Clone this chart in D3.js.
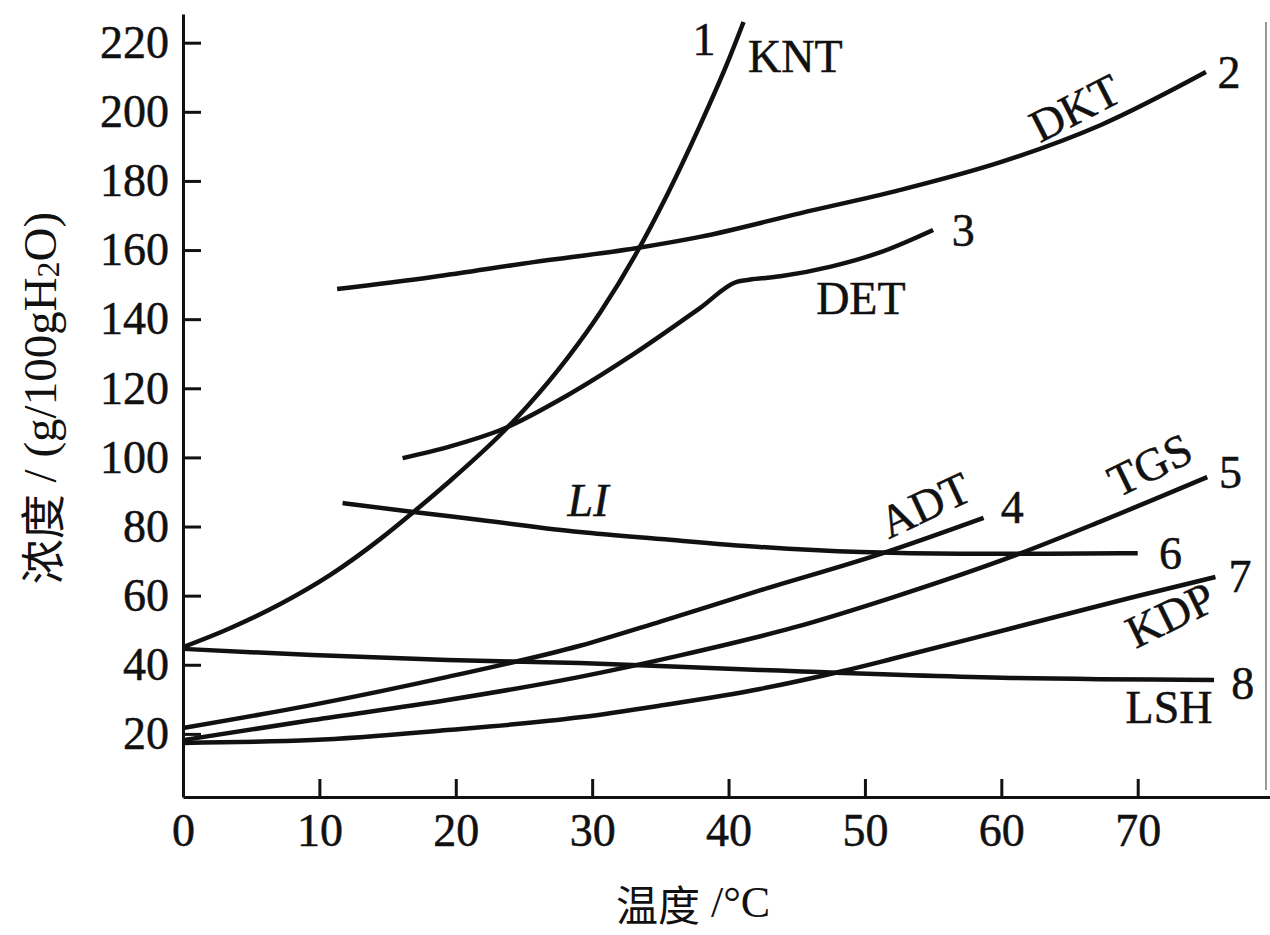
<!DOCTYPE html>
<html><head><meta charset="utf-8">
<script src="https://cdn.jsdelivr.net/npm/d3@7"></script>
<style>
html,body{margin:0;padding:0;background:#fff;}
svg{display:block;}
</style></head><body>
<svg id="chart" width="1270" height="935"></svg>
<script>
// ---- data (temperature °C, concentration g/100gH2O) ----
const xTicks = [0, 10, 20, 30, 40, 50, 60, 70];
const yTicks = [20, 40, 60, 80, 100, 120, 140, 160, 180, 200, 220];

const kntData = [[0,45.1],[3.4,50.5],[7.1,57.5],[10.8,66],[14.5,76.5],[16.9,84.2],[19.4,92.6],[23.5,107.5],[25.2,114.6],[28.2,128.8],[30.6,142],[33.3,159.5],[35.5,176],[37.9,196],[39.9,214],[41.1,226]];
const dktData = [[11.3,148.7],[18.3,152.2],[25.7,156.5],[33.3,160.6],[37.9,163.8],[45.3,170.7],[52.6,177.4],[60.0,185.5],[67.3,196.2],[75.0,211.5]];
const detData = [[16.1,99.8],[19.6,103.2],[23.5,108.3],[28.2,118],[33.0,129.8],[37.9,143.2],[40.6,150.8],[41.5,151.4],[43.8,152.4],[47.5,155.2],[51.1,159.3],[55.0,165.8]];
const adtData = [[0,21.7],[9.5,28.4],[19.4,36.5],[29.1,45.5],[35.0,52.5],[42.3,61.5],[51.1,72],[58.7,82.5]];
const tgsData = [[0,18.2],[9.5,24.0],[19.4,29.8],[29.1,36.5],[36.2,42.5],[44.8,50.8],[52.1,59.6],[61.1,71.8],[67.3,81.5],[75.1,94.3]];
const liData  = [[11.7,86.8],[16.9,84.2],[21.8,81.9],[29.1,78.4],[35.0,76.4],[42.3,74.1],[49.7,72.6],[57.0,72.1],[63.5,72.1],[70.0,72.3]];
const kdpData = [[0,17.4],[9.5,18.2],[19.4,21.1],[29.1,24.8],[35.0,28.2],[42.3,33.0],[48.4,38.2],[52.1,41.8],[60.7,50.5],[69.7,59.6],[75.7,65.4]];
const lshData = [[0,44.6],[9.5,42.8],[19.4,41.4],[29.1,40.5],[42.3,38.5],[60.7,36.2],[75.6,35.6]];

const seriesNames = ["KNT","DKT","DET","ADT","TGS","LI","KDP","LSH"];
const seriesNumbers = ["1","2","3","4","5","6","7","8"];
const seriesData = [kntData, dktData, detData, adtData, tgsData, liData, kdpData, lshData];

// annotation anchors, in data units
const labelAnchors = [
  {text:"1",   t:38.2, v:220.8},
  {text:"KNT", t:44.9, v:215.9},
  {text:"2",   t:76.7, v:211.5},
  {text:"DKT", t:65.4, v:201.1, rot:-27},
  {text:"3",   t:57.2, v:165.8},
  {text:"DET", t:49.7, v:146.1},
  {text:"LI",  t:29.7, v:87.4, italic:true},
  {text:"ADT", t:54.4, v:86.2, rot:-25},
  {text:"4",   t:60.8, v:85.6},
  {text:"TGS", t:70.9, v:97.8, rot:-26},
  {text:"5",   t:76.8, v:95.5},
  {text:"6",   t:72.4, v:72.3},
  {text:"7",   t:77.5, v:65.4},
  {text:"KDP", t:72.4, v:54.4, rot:-26},
  {text:"8",   t:77.7, v:34.7},
  {text:"LSH", t:72.3, v:27.5}
];

// ---- layout ----
const svg = d3.select("#chart");
const serif = "'Liberation Serif','Times New Roman',serif";
const cjk = "'Noto Sans CJK SC','Noto Sans CJK TC',sans-serif";

const x = d3.scaleLinear().domain([0, 79.7]).range([183, 1270]);
const y = d3.scaleLinear().domain([1.74, 228.3]).range([797, 14]);

// frame edge at right (scan border)
svg.append("line").attr("x1",1266).attr("x2",1266).attr("y1",22).attr("y2",790)
  .attr("stroke","#777").attr("stroke-width",1.5);

// axes
const xAxis = d3.axisBottom(x).tickValues(xTicks).tickSize(-18).tickPadding(16).tickSizeOuter(0);
const yAxis = d3.axisLeft(y).tickValues(yTicks).tickSize(-18).tickPadding(14).tickSizeOuter(0);

const gx = svg.append("g").attr("transform", `translate(0,${y(1.74)})`).call(xAxis);
const gy = svg.append("g").attr("transform", `translate(${x(0)},0)`).call(yAxis);
[gx, gy].forEach(g => {
  g.select(".domain").attr("stroke","#111").attr("stroke-width",3);
  g.selectAll(".tick line").attr("stroke","#111").attr("stroke-width",3);
  g.selectAll(".tick text").attr("fill","#111").attr("stroke","#111").attr("stroke-width",0.5)
    .style("font-family", serif).style("font-size","46px");
});
gx.selectAll(".tick").filter(d => d === 0).select("line").remove();

// curves
const line = d3.line().x(d => x(d[0])).y(d => y(d[1])).curve(d3.curveMonotoneX);
svg.append("g").selectAll("path").data(seriesData).join("path")
  .attr("d", line).attr("fill","none").attr("stroke","#111")
  .attr("stroke-width",4.5).attr("stroke-linecap","butt").attr("stroke-linejoin","round");

// curve labels
svg.append("g").selectAll("text").data(labelAnchors).join("text")
  .attr("transform", d => `translate(${x(d.t)},${y(d.v)}) rotate(${d.rot||0})`)
  .attr("text-anchor","middle").attr("dominant-baseline","central")
  .style("font-family", serif).style("font-size","46px")
  .style("font-style", d => d.italic ? "italic" : "normal")
  .attr("fill","#111").attr("stroke","#111").attr("stroke-width",0.5).text(d => d.text);

// y-axis title
const yt = svg.append("text")
  .attr("transform", `translate(40,398) rotate(-90)`)
  .attr("text-anchor","middle").attr("dominant-baseline","central")
  .attr("fill","#111").style("font-size","47px");
yt.append("tspan").style("font-family", cjk).style("font-size","45px").text("浓度");
yt.append("tspan").style("font-family", serif).text(" / (g/100gH");
yt.append("tspan").style("font-family", serif).style("font-size","32px").attr("dy","8").text("2");
yt.append("tspan").style("font-family", serif).attr("dy","-8").text("O)");

// x-axis title
const xt = svg.append("text")
  .attr("transform", `translate(693,902)`)
  .attr("text-anchor","middle").attr("dominant-baseline","central")
  .attr("fill","#111").style("font-size","44px");
xt.append("tspan").style("font-family", cjk).style("font-size","42px").text("温度");
xt.append("tspan").style("font-family", serif).text(" /°C");
</script>
</body></html>
